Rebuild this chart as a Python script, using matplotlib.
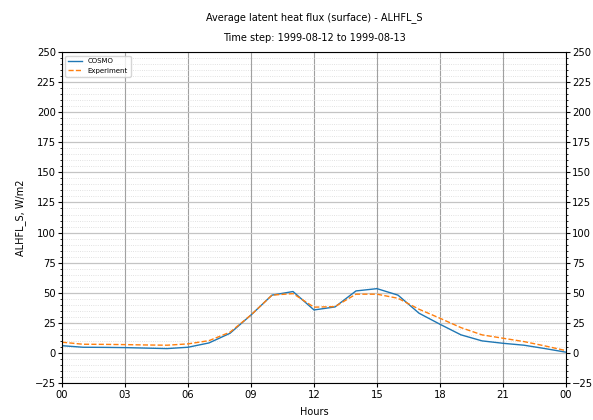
import matplotlib
matplotlib.use("Agg")
import matplotlib.pyplot as plt
from matplotlib.ticker import MultipleLocator

# Hourly values
hours = list(range(25))
cosmo = [6.0, 4.7, 4.6, 4.4, 4.0, 3.6, 4.7, 8.3, 16.3, 31.5, 48.0, 51.0, 35.7,
         38.2, 51.5, 53.4, 48.0, 33.0, 23.8, 15.0, 10.0, 8.0, 6.4, 3.6, 0.6]
experiment = [8.9, 7.2, 7.1, 6.9, 6.6, 6.4, 7.5, 10.2, 17.2, 31.5, 48.0, 49.3, 38.0,
              38.5, 48.8, 48.8, 45.4, 36.3, 28.8, 21.0, 15.0, 12.2, 9.4, 5.8, 1.9]
xtick_pos = [0, 3, 6, 9, 12, 15, 18, 21, 24]
xtick_labels = ["00", "03", "06", "09", "12", "15", "18", "21", "00"]

fig = plt.figure(figsize=(5.93, 4.20), dpi=100)
ax = fig.add_axes([62 / 593, 0.0881, (566 - 62) / 593, 0.788])

ax.plot(hours, cosmo, color="#1f77b4", lw=1.0, label="COSMO")
ax.plot(hours, experiment, color="#ff7f0e", lw=1.0, ls="--", label="Experiment")

ax.set_xlim(0, 24)
ax.set_ylim(-25, 250)
ax.set_xticks(xtick_pos)
ax.set_xticklabels(xtick_labels)
ax.yaxis.set_major_locator(MultipleLocator(25))
ax.yaxis.set_minor_locator(MultipleLocator(5))
ax.tick_params(axis="both", which="major", length=3, pad=2, labelsize=7.2)
ax.tick_params(axis="y", which="both", left=True, right=True, labelleft=True,
               labelright=True)
ax.tick_params(axis="y", which="major", pad=1.5)
ax.tick_params(axis="y", which="minor", length=1.5)

# grids
ax.grid(which="major", axis="y", color="#c4c4c4", lw=0.9)
ax.grid(which="major", axis="x", color="#a0a0a0", lw=0.8)
ax.grid(which="minor", axis="y", color="#d8d8d8", lw=0.6, ls=":")

ax.set_xlabel("Hours", fontsize=7, labelpad=5)
ax.set_ylabel("ALHFL_S, W/m2", fontsize=7, labelpad=6)
ax.set_title("Average latent heat flux (surface) - ALHFL_S\n\nTime step: 1999-08-12 to 1999-08-13",
             fontsize=7, pad=8, linespacing=1.0)

ax.legend(loc="upper left", fontsize=5, frameon=True)

fig.savefig("out.png", dpi=100)
